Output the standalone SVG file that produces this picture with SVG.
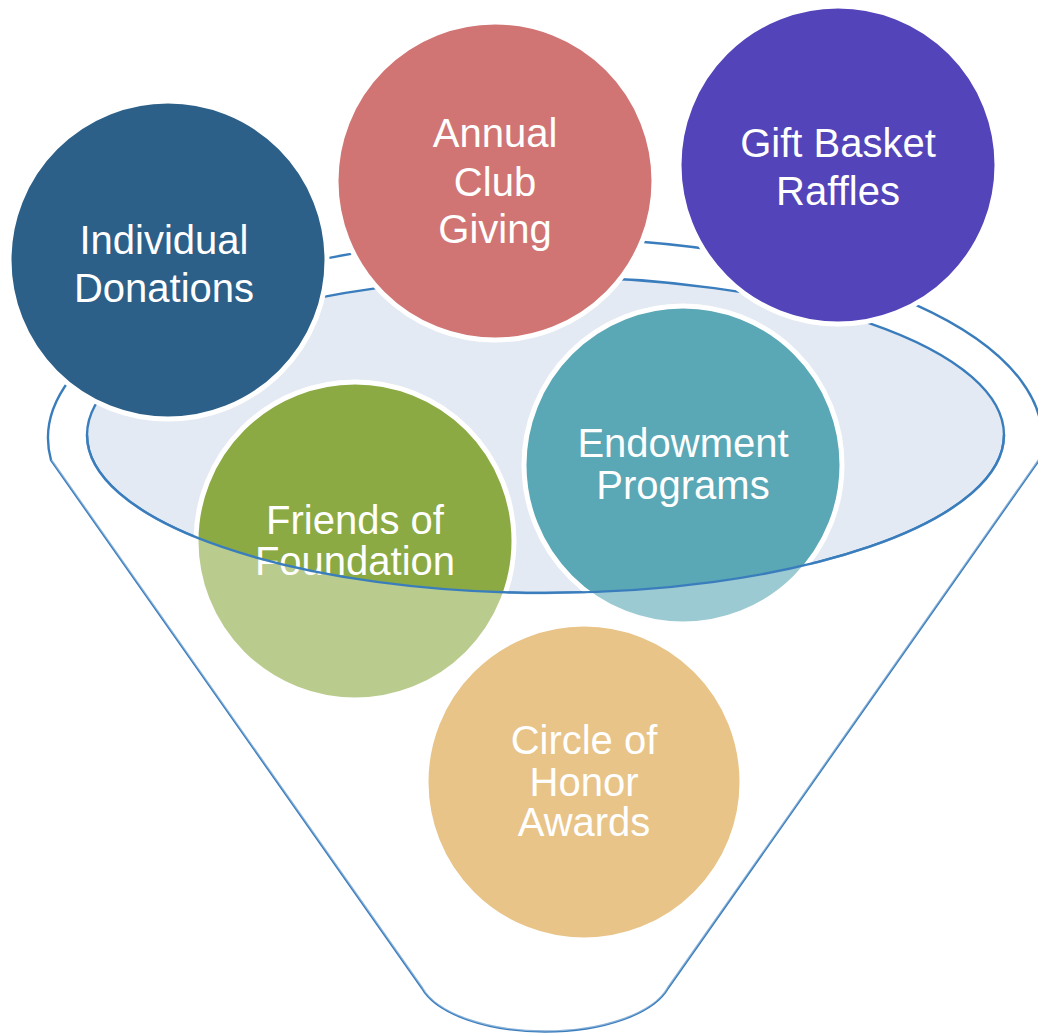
<svg xmlns="http://www.w3.org/2000/svg" width="1038" height="1035" viewBox="0 0 1038 1035">
<style>
.line{fill:none;stroke:#3A7DBD;stroke-width:2.4}
.bub{stroke:#FFFFFF;stroke-width:5}
.lbl{font-family:"Liberation Sans",Arial,sans-serif;font-size:40px;fill:#FFFFFF;text-anchor:middle}
</style>
<rect width="1038" height="1035" fill="#FFFFFF"/>
<g id="funnel-back">
<path class="line" d="M 51,460 A 497,200 0 1 1 1039,460 L 668,988 A 127,58 0 0 1 422,988 Z" fill="none"/>
<ellipse cx="545.5" cy="435" rx="458.5" ry="158" fill="#E4EAF3" stroke="#3A7DBD" stroke-width="2.4"/>
</g>
<g id="node-individual">
<circle class="bub" cx="168" cy="260" r="159" fill="#2D6089"/>
<text class="lbl" x="164" y="254">Individual</text>
<text class="lbl" x="164" y="302">Donations</text>
</g>
<g id="node-annual">
<circle class="bub" cx="495" cy="181" r="159" fill="#D07574"/>
<text class="lbl" x="495" y="147">Annual</text>
<text class="lbl" x="495" y="196">Club</text>
<text class="lbl" x="495" y="243">Giving</text>
</g>
<g id="node-gift">
<circle class="bub" cx="838" cy="165" r="159" fill="#5344B9"/>
<text class="lbl" x="838" y="157">Gift Basket</text>
<text class="lbl" x="838" y="205">Raffles</text>
</g>
<g id="node-friends">
<circle class="bub" cx="355" cy="541" r="159" fill="#8BAA43"/>
<text class="lbl" x="355" y="534">Friends of</text>
<text class="lbl" x="355" y="575">Foundation</text>
</g>
<g id="node-endowment">
<circle class="bub" cx="683" cy="465" r="159" fill="#5AA7B5"/>
<text class="lbl" x="683" y="457">Endowment</text>
<text class="lbl" x="683" y="499">Programs</text>
</g>
<g id="funnel-front">
<path d="M 87,435 A 458.5,158 0 0 0 1004,435 L 1039,460 L 668,988 A 127,58 0 0 1 422,988 L 51,460 Z" fill="#FFFFFF" fill-opacity="0.4"/>
<path class="line" d="M 87,435 A 458.5,158 0 0 0 1004,435"/>
</g>
<g id="node-circle">
<circle class="bub" cx="584" cy="782" r="158" fill="#E8C489"/>
<text class="lbl" x="584" y="754">Circle of</text>
<text class="lbl" x="584" y="796">Honor</text>
<text class="lbl" x="584" y="836">Awards</text>
</g>
<g id="connectors"></g>
</svg>
